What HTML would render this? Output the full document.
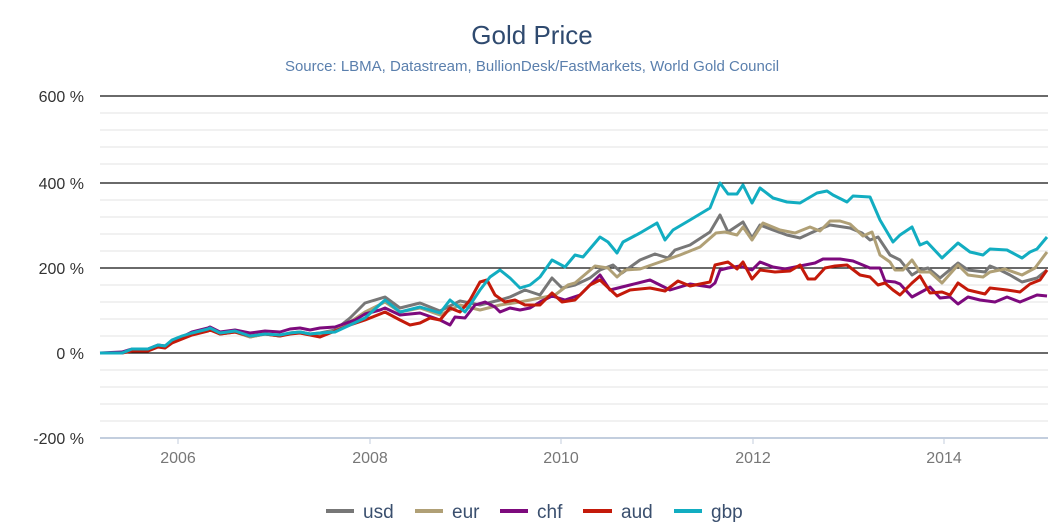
<!DOCTYPE html>
<html><head><meta charset="utf-8"><style>
body{margin:0;background:#fff}
svg{display:block;font-family:"Liberation Sans",sans-serif}
</style></head><body>
<svg width="1064" height="532" viewBox="0 0 1064 532">
<text x="532" y="44" text-anchor="middle" font-size="26" fill="#2f4a6f">Gold Price</text>
<text x="532" y="71" text-anchor="middle" font-size="15" fill="#5a7fad">Source: LBMA, Datastream, BullionDesk/FastMarkets, World Gold Council</text>
<g stroke="#e3e3e3" stroke-width="1">
<line x1="100" x2="1048" y1="113" y2="113"/><line x1="100" x2="1048" y1="130" y2="130"/><line x1="100" x2="1048" y1="147" y2="147"/><line x1="100" x2="1048" y1="164" y2="164"/>
<line x1="100" x2="1048" y1="200" y2="200"/><line x1="100" x2="1048" y1="217" y2="217"/><line x1="100" x2="1048" y1="234" y2="234"/><line x1="100" x2="1048" y1="251" y2="251"/>
<line x1="100" x2="1048" y1="285" y2="285"/><line x1="100" x2="1048" y1="302" y2="302"/><line x1="100" x2="1048" y1="319" y2="319"/><line x1="100" x2="1048" y1="336" y2="336"/>
<line x1="100" x2="1048" y1="370" y2="370"/><line x1="100" x2="1048" y1="387" y2="387"/><line x1="100" x2="1048" y1="404" y2="404"/><line x1="100" x2="1048" y1="421" y2="421"/>
</g>
<g stroke="#111" stroke-width="1.3">
<line x1="100" x2="1048" y1="96" y2="96"/><line x1="100" x2="1048" y1="183" y2="183"/><line x1="100" x2="1048" y1="268" y2="268"/><line x1="100" x2="1048" y1="353" y2="353"/>
</g>
<line x1="100" x2="1048" y1="438" y2="438" stroke="#c3cede" stroke-width="2"/>
<g stroke="#c3cede" stroke-width="1"><line x1="178" x2="178" y1="438" y2="444"/><line x1="370" x2="370" y1="438" y2="444"/><line x1="561" x2="561" y1="438" y2="444"/><line x1="753" x2="753" y1="438" y2="444"/><line x1="944" x2="944" y1="438" y2="444"/></g>
<g font-size="16" fill="#333" text-anchor="end">
<text x="84" y="102">600 %</text><text x="84" y="189">400 %</text><text x="84" y="274">200 %</text><text x="84" y="359">0 %</text><text x="84" y="444">-200 %</text>
</g>
<g font-size="16" fill="#777" text-anchor="middle">
<text x="178" y="463">2006</text><text x="370" y="463">2008</text><text x="561" y="463">2010</text><text x="753" y="463">2012</text><text x="944" y="463">2014</text>
</g>
<g fill="none" stroke-width="3" stroke-linejoin="round">
<polyline stroke="#777777" points="100,353 122,353 132,350 148,350 158,346 165,347 172,342 182,338 192,334 208,330 210,329 220,334 235,332 250,337 265,334 280,336 290,333 300,332 310,334 320,333 335,330 350,318 365,303 385,297 400,308 420,303 440,311 460,301 480,305 500,300 510,297 525,290 540,295 552,278 562,288 575,285 590,278 600,270 613,265 622,273 640,260 655,254 668,258 675,250 690,245 710,232 720,215 728,232 743,222 752,238 760,225 773,230 787,235 800,238 813,232 830,225 850,228 862,233 870,240 878,237 890,255 900,260 912,275 920,270 928,268 940,278 958,263 968,270 985,272 990,266 1000,270 1010,275 1022,282 1037,278 1047,270"/>
<polyline stroke="#b0a076" points="100,353 122,353 132,350 148,350 158,346 165,347 172,342 182,338 192,334 208,330 210,329 220,334 235,332 250,337 265,334 280,336 290,333 300,332 310,334 320,334 335,331 350,322 365,312 385,302 400,312 420,308 440,315 460,305 480,310 500,305 520,302 540,298 555,295 568,285 575,283 595,266 608,268 617,277 625,270 640,269 660,262 680,255 700,247 716,233 725,232 737,235 743,227 752,240 763,223 780,230 795,233 810,227 820,231 830,221 840,221 850,224 863,236 872,232 880,255 890,262 895,270 903,270 912,260 920,272 930,272 942,283 958,265 968,275 983,277 990,272 1005,269 1022,275 1035,268 1047,252"/>
<polyline stroke="#7d0a7d" points="100,353 122,352 132,349 148,349 158,345 165,346 172,341 182,337 192,332 208,328 210,327 220,332 235,330 250,333 265,331 280,332 290,329 300,328 310,330 320,328 335,327 355,320 365,314 380,310 385,308 400,315 420,313 440,320 450,325 455,317 465,318 475,305 485,302 495,307 500,312 510,308 520,310 530,308 540,302 552,296 565,300 580,295 600,275 610,290 630,285 650,280 670,290 690,284 710,287 715,283 720,270 728,268 740,266 752,270 760,262 773,267 785,269 800,266 815,263 823,259 840,259 853,261 870,268 880,268 885,281 895,282 900,284 912,297 925,290 930,287 940,298 950,297 958,304 968,297 980,300 995,302 1007,297 1020,302 1037,295 1047,296"/>
<polyline stroke="#c41a0a" points="100,353 122,353 132,351 148,351 158,347 165,348 172,343 182,339 192,335 208,331 210,330 220,334 235,332 250,336 265,334 280,336 290,334 300,333 310,335 320,337 350,325 365,320 385,312 400,320 410,325 420,323 430,318 440,320 450,308 460,312 470,300 480,282 487,280 495,295 505,302 515,300 525,305 540,305 552,293 562,302 575,300 590,285 600,280 617,296 630,290 650,288 665,291 678,281 690,286 710,282 715,265 728,262 737,269 743,262 752,279 760,270 775,272 790,271 800,265 808,279 815,279 825,268 835,266 847,265 860,275 870,277 878,285 885,283 893,290 900,295 912,283 920,276 930,293 942,292 950,295 958,283 968,290 985,294 990,288 1007,290 1020,292 1030,284 1040,280 1047,270"/>
<polyline stroke="#12adc1" points="100,353 122,353 132,349 148,349 158,345 165,346 172,340 182,336 192,333 208,329 210,328 220,333 235,331 250,336 265,334 280,335 290,333 300,332 310,334 320,333 335,332 350,325 365,318 385,300 400,312 420,307 430,310 440,313 450,300 465,312 470,305 480,290 490,277 500,270 510,278 520,288 530,285 540,277 552,260 565,267 575,255 583,257 600,237 608,242 617,253 623,242 640,233 657,223 665,240 673,230 690,220 710,208 720,183 728,194 737,194 743,185 752,203 760,188 773,198 787,202 800,203 817,193 827,191 833,195 847,202 853,196 870,197 880,220 893,242 900,235 912,227 920,245 927,242 942,258 958,243 970,252 983,255 990,249 1007,250 1022,258 1030,252 1037,249 1047,237"/>
</g>
<g stroke-width="4">
<line x1="326" x2="354" y1="511" y2="511" stroke="#777777"/>
<line x1="415" x2="443" y1="511" y2="511" stroke="#b0a076"/>
<line x1="500" x2="528" y1="511" y2="511" stroke="#7d0a7d"/>
<line x1="583" x2="612" y1="511" y2="511" stroke="#c41a0a"/>
<line x1="674" x2="702" y1="511" y2="511" stroke="#12adc1"/>
</g>
<g font-size="19" fill="#3a4f6e">
<text x="363" y="518">usd</text><text x="452" y="518">eur</text><text x="537" y="518">chf</text><text x="621" y="518">aud</text><text x="711" y="518">gbp</text>
</g>
</svg>
</body></html>
